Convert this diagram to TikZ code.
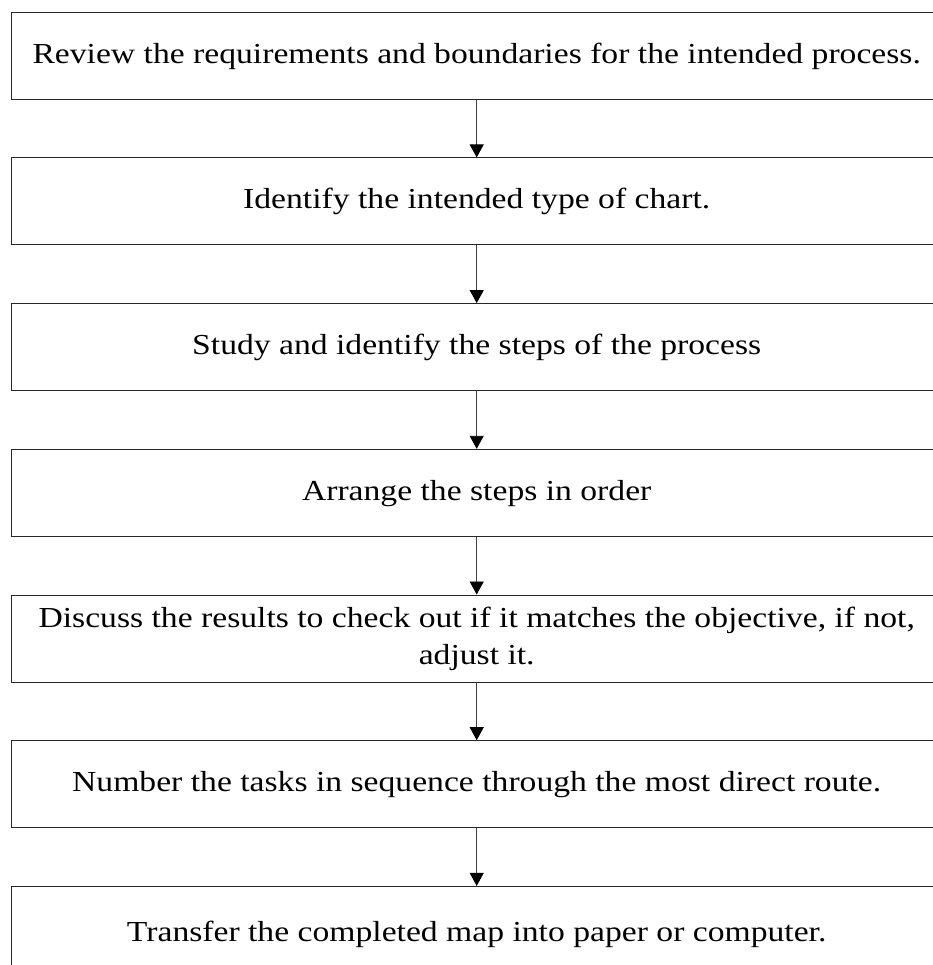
\documentclass[tikz,border=0pt]{standalone}
\usepackage{fontspec}
\setmainfont{Liberation Serif}
\usetikzlibrary{arrows.meta}
% labels are set a little wider than the font's natural width, and sit slightly low in their boxes
\newcommand{\widetext}[1]{\raisebox{-5bp}{\scalebox{1.16}[1]{\begin{tabular}{@{}c@{}}#1\end{tabular}}}}
\begin{document}
\begin{tikzpicture}[x=1bp,y=-1bp,
  stepbox/.style={draw=black!85, line width=0.9bp, minimum width=930bp, minimum height=87bp,
    inner sep=0pt, align=center, font=\fontsize{29bp}{37bp}\selectfont, anchor=north},
  flow/.style={draw=black!75, line width=0.9bp, -{Triangle[width=14bp,length=13bp,color=black]}}]
\useasboundingbox (0,0) rectangle (933,965);
\clip (0,0) rectangle (933,965);
\node[stepbox] (s1) at (476.7,11.7) {\widetext{Review the requirements and boundaries for the intended process.}};
\node[stepbox] (s2) at (476.7,157.4) {\widetext{Identify the intended type of chart.}};
\node[stepbox] (s3) at (476.7,303.1) {\widetext{Study and identify the steps of the process}};
\node[stepbox] (s4) at (476.7,448.8) {\widetext{Arrange the steps in order}};
\node[stepbox] (s5) at (476.7,594.5) {\widetext{Discuss the results to check out if it matches the objective, if not,\\adjust it.}};
\node[stepbox] (s6) at (476.7,740.2) {\widetext{Number the tasks in sequence through the most direct route.}};
\node[stepbox, minimum height=95bp] (s7) at (476.7,885.9) {\widetext{Transfer the completed map into paper or computer.}};
\draw[flow] (s1.south) -- (s2.north);
\draw[flow] (s2.south) -- (s3.north);
\draw[flow] (s3.south) -- (s4.north);
\draw[flow] (s4.south) -- (s5.north);
\draw[flow] (s5.south) -- (s6.north);
\draw[flow] (s6.south) -- (s7.north);
\end{tikzpicture}
\end{document}
